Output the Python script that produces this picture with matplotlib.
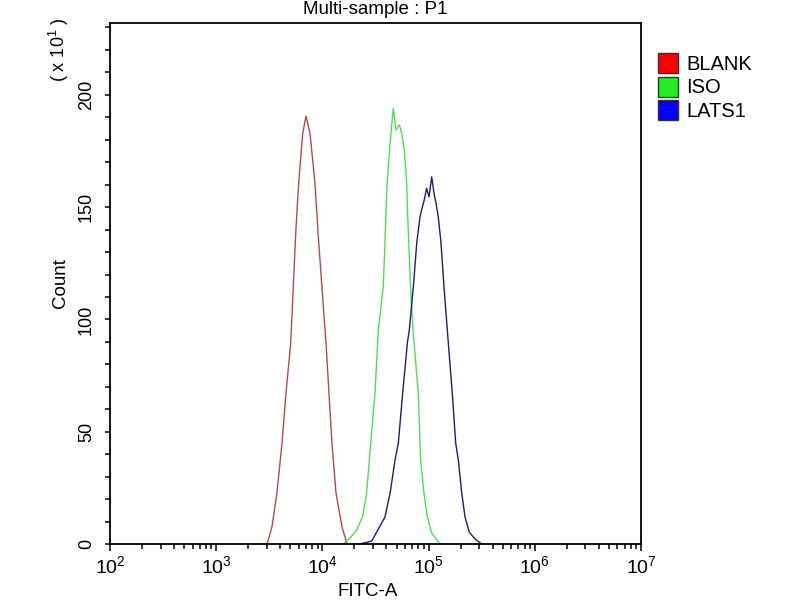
import matplotlib
matplotlib.use("Agg")
import matplotlib.pyplot as plt
from matplotlib.patches import Rectangle
from matplotlib.ticker import LogLocator, MultipleLocator, NullFormatter

plt.rcParams["font.family"] = ["Liberation Sans", "DejaVu Sans"]
plt.rcParams["mathtext.default"] = "regular"

# FITC-A intensity and event count (x10) for each sample
blank_fitc = [3010, 3350, 3730, 4170, 4540, 5030, 5250, 5610, 5980, 6530, 7010,
              7640, 8510, 9100, 9840, 10810, 11530, 12300, 13430, 15300, 17060]
blank_count = [0, 7.6, 22.7, 45.0, 67.2, 89.5, 108.6, 138.5, 160.7, 183.0, 190.6,
               183.0, 160.7, 138.5, 116.2, 89.5, 67.2, 45.0, 22.7, 7.6, 0]

iso_fitc = [15700, 18200, 21000, 23900, 26100, 28500, 31300, 33600, 37400, 38800,
            40300, 41700, 43400, 45400, 46500, 49300, 53000, 55800, 59000, 62200,
            63400, 67600, 71300, 80000, 84100, 90400, 97300, 106900, 127900]
iso_count = [0, 2.7, 6.2, 12.0, 22.7, 45.0, 67.2, 95.3, 114.4, 134.0,
             156.3, 168.0, 178.5, 188.8, 194.0, 184.3, 186.6, 183.0, 175.4, 160.7,
             147.4, 114.4, 95.3, 67.2, 37.4, 22.7, 12.0, 4.9, 0]

lats1_fitc = [22600, 29100, 32400, 38800, 43400, 48300, 51900, 57000, 63100, 65800,
              71800, 77300, 83000, 85900, 91000, 95700, 100900, 106900, 112500,
              117500, 123300, 130900, 139600, 150000, 167100, 179900, 190500,
              205100, 220300, 241500, 273500, 316200]
lats1_count = [0, 1.3, 5.3, 12.0, 22.7, 37.4, 45.0, 67.2, 89.5, 95.3,
               114.4, 134.0, 145.7, 148.7, 153.2, 158.4, 154.6, 163.5, 156.1,
               151.7, 145.7, 134.0, 114.4, 95.3, 67.2, 45.0, 37.4,
               22.7, 12.0, 5.3, 2.2, 0]

sample_names = ["BLANK", "ISO", "LATS1"]
line_colors = ["#b34a4a", "#4fe04f", "#1c1c7a"]
legend_colors = ["#ff0000", "#22ee22", "#0000ff"]

fig = plt.figure(figsize=(8, 6), dpi=100)
ax = fig.add_axes([110 / 800, 56 / 600, 531 / 800, 521 / 600])

series = [(blank_fitc, blank_count), (iso_fitc, iso_count), (lats1_fitc, lats1_count)]
for (xs, ys), col in zip(series, line_colors):
    ax.plot(xs, ys, color=col, lw=1.0)

ax.set_xscale("log")
ax.set_xlim(1e2, 1e7)
ax.set_ylim(0, 232)

ax.xaxis.set_major_locator(LogLocator(base=10, numticks=10))
ax.xaxis.set_minor_locator(LogLocator(base=10, subs=range(2, 10), numticks=20))
ax.xaxis.set_minor_formatter(NullFormatter())
ax.yaxis.set_major_locator(MultipleLocator(50))
ax.yaxis.set_minor_locator(MultipleLocator(10))

ax.tick_params(axis="x", which="major", direction="out", length=5, width=1.1,
               labelsize=14, pad=3)
ax.tick_params(axis="x", which="minor", direction="out", length=3.5, width=1.1)
ax.tick_params(axis="y", which="both", direction="out", length=3.8, width=1.1,
               labelsize=13, pad=7)
for lab in ax.get_yticklabels():
    lab.set_rotation(90)
    lab.set_va("center")

for sp in ax.spines.values():
    sp.set_linewidth(1.3)

fig.text(375 / 800, 1 - 10 / 600, "Multi-sample : P1", ha="center", va="center", fontsize=13.5)
fig.text(60 / 800, 1 - 283 / 600, "Count", ha="center", va="center", rotation=90, fontsize=13.5)
fig.text(59 / 800, 1 - 50 / 600, "( x 10$^1$ )", ha="center", va="center", rotation=90, fontsize=13)
fig.text(368 / 800, 1 - 591 / 600, "FITC-A", ha="center", va="center", fontsize=13.5)

# legend boxes on the right
for i, (name, col) in enumerate(zip(sample_names, legend_colors)):
    top = 53 + i * 23.5
    fig.add_artist(Rectangle((658 / 800, 1 - (top + 20) / 600), 20 / 800, 20 / 600,
                             transform=fig.transFigure, facecolor=col,
                             edgecolor="#333333", lw=1.0))
    fig.text(686 / 800, 1 - (top + 11) / 600, name, ha="left", va="center", fontsize=14.5)

fig.savefig("out.png", dpi=100)
